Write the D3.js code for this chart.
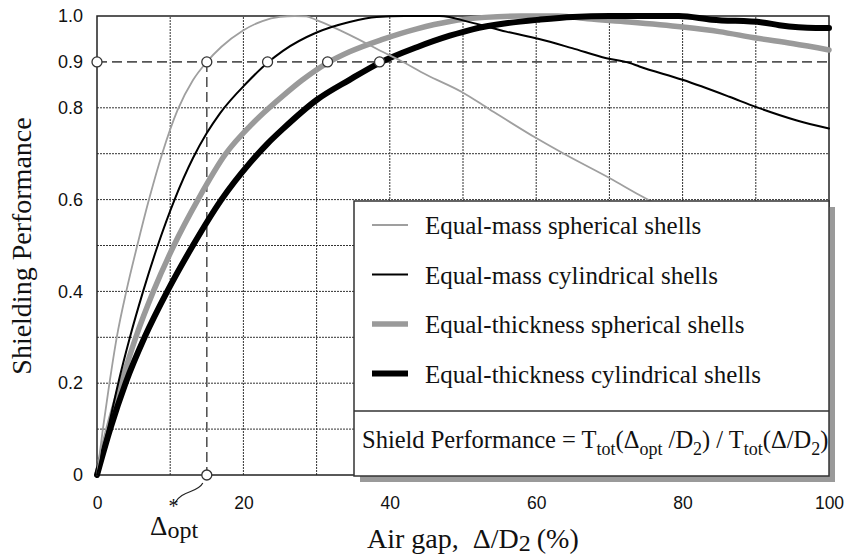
<!DOCTYPE html>
<html>
<head>
<meta charset="utf-8">
<script src="https://cdn.jsdelivr.net/npm/d3@7/dist/d3.min.js"></script>
<style>
  html, body { margin: 0; padding: 0; background: #fff; }
  svg { display: block; }
</style>
</head>
<body>
<svg id="chart" width="848" height="558"></svg>
<script>
// ---------------- DATA ----------------
const xTicks = [0, 20, 40, 60, 80, 100];
const yTicks = [0, 0.2, 0.4, 0.6, 0.8, 0.9, 1.0];
const xGrid = [10, 20, 30, 40, 50, 60, 70, 80, 90];
const yGrid = [0.1, 0.2, 0.3, 0.4, 0.5, 0.6, 0.7, 0.8];

const targetPerf = 0.9;
const optGap = 15;
const crossGaps = [0, 15, 23.3, 31.5, 38.6];

// Equal-mass spherical shells (thin gray)
const massSpherical = [
  [0,0],[0.8,0.1],[1.7,0.2],[2.7,0.3],[4.0,0.4],[5.5,0.5],[7.1,0.6],[8.9,0.7],[11,0.795],
  [13.1,0.86],[15,0.9],[17,0.933],[19.9,0.968],[22.6,0.989],[25,0.998],[27,1.0],[28.6,0.999],
  [30,0.991],[34.5,0.959],[39,0.922],[41.3,0.904],[45,0.872],[49.9,0.834],[53.6,0.797],[60,0.734],
  [64.1,0.697],[70,0.647],[74.1,0.61],[77,0.585],[85,0.52],[92,0.47],[100,0.42]
];
// Equal-mass cylindrical shells (thin black)
const massCylindrical = [
  [0,0],[1.5,0.1],[2.9,0.2],[4.5,0.3],[6.3,0.4],[8.3,0.5],[10.6,0.6],[13.1,0.69],[15,0.745],
  [16.8,0.788],[20.5,0.855],[23.3,0.898],[25.4,0.924],[30,0.964],[34.5,0.987],[38.2,0.998],[42,1.0],
  [46.8,1.0],[51.3,0.985],[55.9,0.966],[60.4,0.95],[64.9,0.93],[69.6,0.908],[72.7,0.898],[74.1,0.89],
  [80,0.861],[86.4,0.824],[90,0.802],[95.5,0.773],[100,0.755]
];
// Equal-thickness spherical shells (thick gray)
const thickSpherical = [
  [0,0],[1.5,0.1],[3.3,0.2],[5.3,0.3],[7.7,0.4],[10.5,0.5],[13.8,0.6],[17.6,0.7],[20.9,0.76],
  [22.7,0.788],[25.4,0.826],[28,0.86],[31.5,0.898],[34.5,0.922],[39,0.949],[43.7,0.972],[48.2,0.988],
  [53,0.997],[58,1.0],[63,1.0],[67,0.994],[72.7,0.987],[80,0.976],[85,0.966],[90,0.952],
  [95,0.94],[100,0.926]
];
// Equal-thickness cylindrical shells (thick black)
const thickCylindrical = [
  [0,0],[1.8,0.1],[3.9,0.2],[6.5,0.3],[9.6,0.4],[13.1,0.5],[17,0.6],[20.9,0.68],[23.3,0.722],
  [25.4,0.754],[30,0.817],[34.5,0.861],[38.6,0.898],[43.7,0.932],[48.2,0.957],[51.3,0.971],
  [55.9,0.984],[60.4,0.992],[65,0.998],[70,1.0],[79.5,1.0],[84,0.992],[90.9,0.986],
  [93.2,0.98],[98.2,0.974],[100,0.974]
];

const legendLabels = [
  "Equal-mass spherical shells",
  "Equal-mass cylindrical shells",
  "Equal-thickness spherical shells",
  "Equal-thickness cylindrical shells"
];

// ---------------- CHART ----------------
const svg = d3.select("#chart");
const serif = "'Liberation Serif', 'Times New Roman', serif";
const sans = "'Liberation Sans', Arial, sans-serif";

const M = { left: 97, right: 829, top: 16, bottom: 475 };
const x = d3.scaleLinear().domain([0, 100]).range([M.left, M.right]);
const y = d3.scaleLinear().domain([0, 1]).range([M.bottom, M.top]);

// Grid
const grid = svg.append("g").attr("stroke", "#333").attr("stroke-width", 1)
  .attr("stroke-dasharray", "2,1");
grid.selectAll("line.v").data(xGrid).join("line").attr("class", "v")
  .attr("x1", d => x(d)).attr("x2", d => x(d)).attr("y1", y(0)).attr("y2", y(1));
grid.selectAll("line.h").data(yGrid).join("line").attr("class", "h")
  .attr("x1", x(0)).attr("x2", x(100)).attr("y1", d => y(d)).attr("y2", d => y(d));

// Reference dashed lines
svg.append("line").attr("x1", x(0)).attr("x2", x(100))
  .attr("y1", y(targetPerf)).attr("y2", y(targetPerf))
  .attr("stroke", "#555").attr("stroke-width", 1.6).attr("stroke-dasharray", "10,5");
svg.append("line").attr("x1", x(optGap)).attr("x2", x(optGap))
  .attr("y1", y(targetPerf)).attr("y2", y(0))
  .attr("stroke", "#555").attr("stroke-width", 1.6).attr("stroke-dasharray", "10,5");

// Frame
svg.append("rect").attr("x", M.left).attr("y", M.top)
  .attr("width", M.right - M.left).attr("height", M.bottom - M.top)
  .attr("fill", "none").attr("stroke", "#222").attr("stroke-width", 1.5);

// Curves
const series = [
  { data: thickSpherical, color: "#9a9a9a", width: 5.5 },
  { data: thickCylindrical, color: "#000", width: 6 },
  { data: massSpherical, color: "#9f9f9f", width: 1.8 },
  { data: massCylindrical, color: "#000", width: 2 }
];
const line = d3.line().x(d => x(d[0])).y(d => y(d[1])).curve(d3.curveMonotoneX);
svg.append("g").selectAll("path").data(series).join("path")
  .attr("d", d => line(d.data)).attr("fill", "none")
  .attr("stroke", d => d.color).attr("stroke-width", d => d.width)
  .attr("stroke-linejoin", "round").attr("stroke-linecap", "round");

// Leader line from optimum marker to label
const lp = d3.path();
lp.moveTo(x(optGap) - 4, y(0) + 8);
lp.bezierCurveTo(x(optGap) - 9, y(0) + 18, x(optGap) - 25, y(0) + 15, x(optGap) - 32, y(0) + 28);
svg.append("path").attr("d", lp.toString()).attr("fill", "none")
  .attr("stroke", "#222").attr("stroke-width", 1.2);

// Circles
const circ = svg.append("g").attr("fill", "#fff").attr("stroke", "#333").attr("stroke-width", 1.3);
circ.selectAll("circle.c").data(crossGaps).join("circle").attr("class", "c")
  .attr("cx", d => x(d)).attr("cy", y(targetPerf)).attr("r", 5);
circ.append("circle").attr("cx", x(optGap)).attr("cy", y(0)).attr("r", 5);

// Axes labels
const xAxis = d3.axisBottom(x).tickValues(xTicks).tickSize(0).tickPadding(22)
  .tickFormat(d3.format("d"));
const gx = svg.append("g").attr("transform", `translate(0,${M.bottom})`).call(xAxis);
gx.select(".domain").remove();
gx.selectAll("text").attr("font-family", sans).attr("font-size", 17.5).attr("fill", "#111");

const yAxis = d3.axisLeft(y).tickValues(yTicks).tickSize(0).tickPadding(14)
  .tickFormat(d => d === 0 ? "0" : d3.format(".1f")(d));
const gy = svg.append("g").attr("transform", `translate(${M.left},0)`).call(yAxis);
gy.select(".domain").remove();
gy.selectAll("text").attr("font-family", sans).attr("font-size", 18).attr("fill", "#111");

// Y title
svg.append("text").attr("transform", "translate(31,246) rotate(-90)")
  .attr("text-anchor", "middle").attr("font-family", serif).attr("font-size", 28)
  .attr("fill", "#111").text("Shielding Performance");

// X title
const xt = svg.append("text").attr("x", 367).attr("y", 548)
  .attr("font-family", serif).attr("font-size", 28).attr("fill", "#111");
xt.append("tspan").text("Air gap,");
xt.append("tspan").attr("dx", 14).text("Δ/D");
xt.append("tspan").attr("font-size", 24).attr("dy", 3).text("2");
xt.append("tspan").attr("dy", -3).attr("dx", 6).text("(%)");

// Δ*opt label (single text element)
const ol = svg.append("text").attr("x", 150).attr("y", 535)
  .attr("font-family", serif).attr("fill", "#111");
ol.append("tspan").attr("font-size", 27).text("Δ");
ol.append("tspan").attr("font-size", 20).attr("dy", -22).attr("dx", 1).text("*");
ol.append("tspan").attr("font-size", 24).attr("dy", 25).attr("dx", -11).text("opt");

// Legend
const L = { x0: 354, x1: 829, y0: 201, y1: 476, sep: 411 };
svg.append("rect").attr("x", L.x0 + 6).attr("y", L.y0 + 6)
  .attr("width", L.x1 - L.x0).attr("height", L.y1 - L.y0).attr("fill", "#9a9a9a");
svg.append("rect").attr("x", L.x0).attr("y", L.y0)
  .attr("width", L.x1 - L.x0).attr("height", L.y1 - L.y0)
  .attr("fill", "#fff").attr("stroke", "#333").attr("stroke-width", 1.5);
svg.append("line").attr("x1", L.x0).attr("x2", L.x1).attr("y1", L.sep).attr("y2", L.sep)
  .attr("stroke", "#333").attr("stroke-width", 1.5);

const legendSeries = [series[2], series[3], series[0], series[1]];
const rows = svg.append("g").selectAll("g").data(legendLabels).join("g")
  .attr("transform", (d, i) => `translate(0,${234 + i * 49.5})`);
rows.append("line").attr("x1", 372).attr("x2", 408).attr("y1", -9).attr("y2", -9)
  .attr("stroke", (d, i) => legendSeries[i].color)
  .attr("stroke-width", (d, i) => legendSeries[i].width);
rows.append("text").attr("x", 425).attr("y", 0).attr("font-family", serif)
  .attr("font-size", 25).attr("fill", "#111").text(d => d);

// Formula
const f = svg.append("text").attr("x", 362).attr("y", 448)
  .attr("font-family", serif).attr("font-size", 24.5).attr("fill", "#111");
const sub = (txt) => { f.append("tspan").attr("font-size", 18).attr("dy", 7).text(txt); };
const main = (txt) => { f.append("tspan").attr("font-size", 24.5).attr("dy", -7).text(txt); };
f.append("tspan").text("Shield Performance = T");
sub("tot"); main("(Δ"); sub("opt"); main("\u00a0/D"); sub("2"); main(") / T");
sub("tot"); main("(Δ/D"); sub("2"); main(")");
</script>
</body>
</html>
